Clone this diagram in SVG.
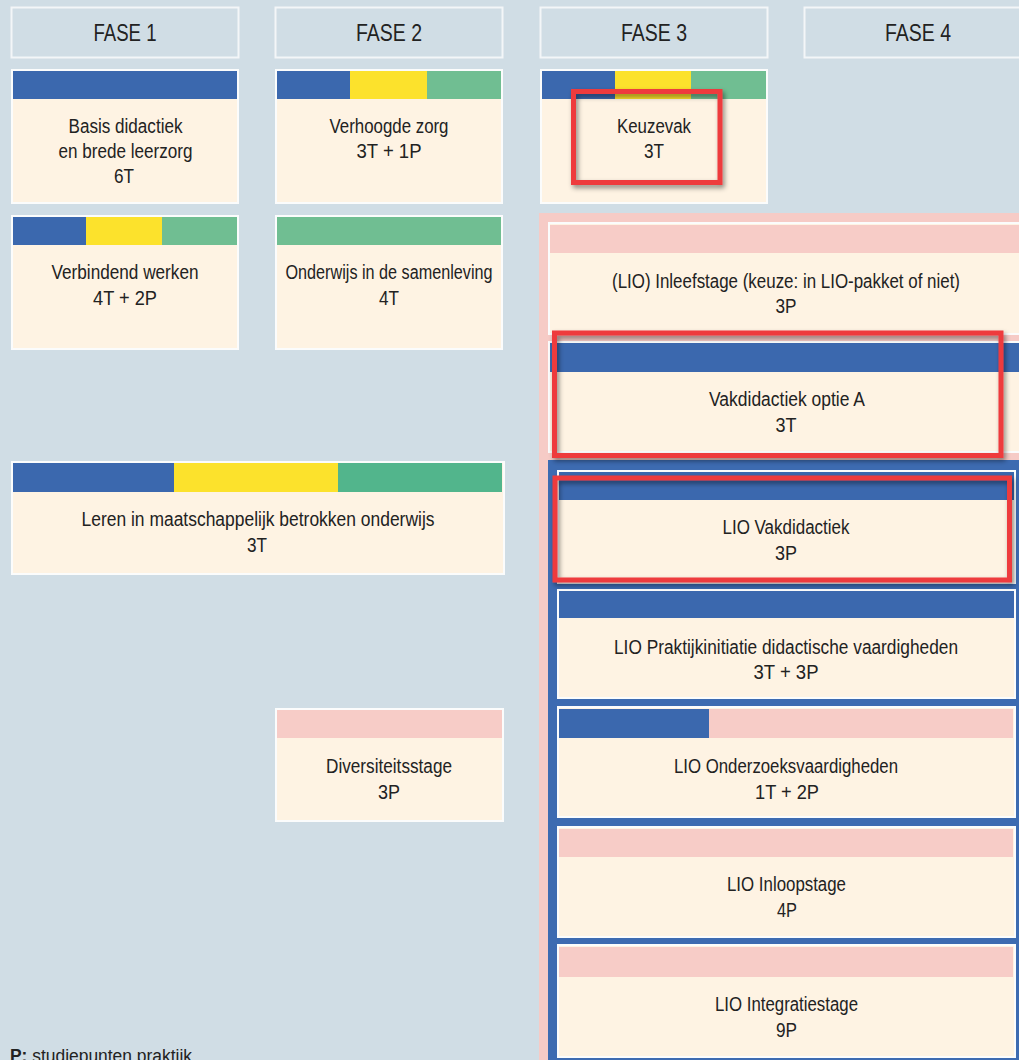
<svg xmlns="http://www.w3.org/2000/svg" width="1019" height="1060" viewBox="0 0 1019 1060">
<defs>
<style>
.hdr{fill:#D0DDE5;stroke:#F3F6F8;stroke-width:2}
.card{fill:#FEF3E3;stroke:#FBFCFC;stroke-width:2}
.t{font-family:"Liberation Sans Narrow","Liberation Sans",Arial,sans-serif;font-size:20px;fill:#222;text-anchor:middle}
.h{font-family:"Liberation Sans Narrow","Liberation Sans",Arial,sans-serif;font-size:24px;fill:#222;text-anchor:middle}
.b{fill:#3B68AE}
.y{fill:#FCE22C}
.g{fill:#70BE92}
.g2{fill:#52B58C}
.p{fill:#F7CCC7}
.red{fill:none;stroke:#EE3A3E;stroke-width:5;filter:url(#sh)}
</style>
<filter id="sh" x="-10%" y="-20%" width="125%" height="150%">
<feDropShadow dx="2" dy="3" stdDeviation="2.5" flood-color="#000" flood-opacity="0.45"/>
</filter>
</defs>
<rect x="0" y="0" width="1019" height="1060" fill="#D0DDE5"/>

<g id="headers">
<g id="fase1"><rect class="hdr" x="11.5" y="7.5" width="227" height="50"/><text class="h" x="125" y="41" textLength="63" lengthAdjust="spacingAndGlyphs">FASE 1</text></g>
<g id="fase2"><rect class="hdr" x="275.5" y="7.5" width="227" height="50"/><text class="h" x="389" y="41" textLength="66" lengthAdjust="spacingAndGlyphs">FASE 2</text></g>
<g id="fase3"><rect class="hdr" x="540.5" y="7.5" width="227" height="50"/><text class="h" x="654" y="41" textLength="66" lengthAdjust="spacingAndGlyphs">FASE 3</text></g>
<g id="fase4"><rect class="hdr" x="804.5" y="7.5" width="227" height="50"/><text class="h" x="918" y="41" textLength="66" lengthAdjust="spacingAndGlyphs">FASE 4</text></g>
</g>

<g id="basis-didactiek">
<rect class="card" x="12" y="70" width="226" height="133"/>
<rect class="b" x="13" y="71" width="224" height="28"/>
<text class="t" x="125.5" y="133" textLength="114" lengthAdjust="spacingAndGlyphs">Basis didactiek</text>
<text class="t" x="125.5" y="158" textLength="134" lengthAdjust="spacingAndGlyphs">en brede leerzorg</text>
<text class="t" x="124" y="183" textLength="20" lengthAdjust="spacingAndGlyphs">6T</text>
</g>

<g id="verhoogde-zorg">
<rect class="card" x="276" y="70" width="226" height="133"/>
<rect class="b" x="277" y="71" width="73" height="28"/>
<rect class="y" x="350" y="71" width="77" height="28"/>
<rect class="g" x="427" y="71" width="74" height="28"/>
<text class="t" x="389" y="133" textLength="119" lengthAdjust="spacingAndGlyphs">Verhoogde zorg</text>
<text class="t" x="389" y="158" textLength="65" lengthAdjust="spacingAndGlyphs">3T + 1P</text>
</g>

<g id="keuzevak">
<rect class="card" x="541" y="70" width="226" height="133"/>
<rect class="b" x="542" y="71" width="73" height="28"/>
<rect class="y" x="615" y="71" width="76" height="28"/>
<rect class="g" x="691" y="71" width="75" height="28"/>
<text class="t" x="654" y="133" textLength="74" lengthAdjust="spacingAndGlyphs">Keuzevak</text>
<text class="t" x="654" y="158" textLength="20" lengthAdjust="spacingAndGlyphs">3T</text>
</g>

<g id="verbindend-werken">
<rect class="card" x="12" y="216" width="226" height="133"/>
<rect class="b" x="13" y="217" width="73" height="28"/>
<rect class="y" x="86" y="217" width="76" height="28"/>
<rect class="g" x="162" y="217" width="75" height="28"/>
<text class="t" x="125" y="279" textLength="147" lengthAdjust="spacingAndGlyphs">Verbindend werken</text>
<text class="t" x="125" y="305" textLength="64" lengthAdjust="spacingAndGlyphs">4T + 2P</text>
</g>

<g id="onderwijs-samenleving">
<rect class="card" x="276" y="216" width="226" height="133"/>
<rect class="g" x="277" y="217" width="224" height="28"/>
<text class="t" x="389" y="279" textLength="207" lengthAdjust="spacingAndGlyphs">Onderwijs in de samenleving</text>
<text class="t" x="389" y="305" textLength="20" lengthAdjust="spacingAndGlyphs">4T</text>
</g>

<g id="leren-maatschappelijk">
<rect class="card" x="12" y="462" width="492" height="112"/>
<rect class="b" x="13" y="463" width="161" height="29"/>
<rect class="y" x="174" y="463" width="164" height="29"/>
<rect class="g2" x="338" y="463" width="164" height="29"/>
<text class="t" x="258" y="526" textLength="353" lengthAdjust="spacingAndGlyphs">Leren in maatschappelijk betrokken onderwijs</text>
<text class="t" x="257" y="552" textLength="20" lengthAdjust="spacingAndGlyphs">3T</text>
</g>

<g id="diversiteitsstage">
<rect class="card" x="276" y="709" width="227" height="112"/>
<rect class="p" x="277" y="710" width="225" height="28"/>
<text class="t" x="389" y="773" textLength="126" lengthAdjust="spacingAndGlyphs">Diversiteitsstage</text>
<text class="t" x="389" y="799" textLength="22" lengthAdjust="spacingAndGlyphs">3P</text>
</g>

<g id="lio-pakket">
<rect x="539" y="213" width="490" height="850" fill="#F6CBC6"/>

<g id="inleefstage">
<rect class="card" x="549" y="223" width="480" height="111"/>
<rect class="p" x="550" y="225" width="479" height="28"/>
<text class="t" x="786" y="288" textLength="348" lengthAdjust="spacingAndGlyphs">(LIO) Inleefstage (keuze: in LIO-pakket of niet)</text>
<text class="t" x="786" y="313" textLength="21" lengthAdjust="spacingAndGlyphs">3P</text>
</g>

<g id="vakdidactiek-optie-a">
<rect class="card" x="549" y="342" width="480" height="110"/>
<rect class="b" x="550" y="343" width="479" height="29"/>
<text class="t" x="787" y="406" textLength="156" lengthAdjust="spacingAndGlyphs">Vakdidactiek optie A</text>
<text class="t" x="786" y="432" textLength="21" lengthAdjust="spacingAndGlyphs">3T</text>
</g>

<g id="lio-blok">
<rect x="548" y="460" width="481" height="603" fill="#3D6BB1"/>

<g id="lio-vakdidactiek">
<rect class="card" x="558" y="471" width="457" height="112"/>
<rect class="b" x="559" y="472" width="455" height="28"/>
<text class="t" x="786" y="534" textLength="127" lengthAdjust="spacingAndGlyphs">LIO Vakdidactiek</text>
<text class="t" x="786" y="560" textLength="22" lengthAdjust="spacingAndGlyphs">3P</text>
</g>

<g id="lio-praktijkinitiatie">
<rect class="card" x="558" y="590" width="457" height="108"/>
<rect class="b" x="559" y="591" width="455" height="27"/>
<text class="t" x="786" y="654" textLength="344" lengthAdjust="spacingAndGlyphs">LIO Praktijkinitiatie didactische vaardigheden</text>
<text class="t" x="786" y="679" textLength="65" lengthAdjust="spacingAndGlyphs">3T + 3P</text>
</g>

<g id="lio-onderzoeksvaardigheden">
<rect class="card" x="558" y="707" width="457" height="110"/>
<rect class="b" x="559" y="709" width="150" height="29"/>
<rect class="p" x="709" y="709" width="304" height="29"/>
<text class="t" x="786" y="773" textLength="224" lengthAdjust="spacingAndGlyphs">LIO Onderzoeksvaardigheden</text>
<text class="t" x="787" y="799" textLength="64" lengthAdjust="spacingAndGlyphs">1T + 2P</text>
</g>

<g id="lio-inloopstage">
<rect class="card" x="558" y="827" width="457" height="110"/>
<rect class="p" x="559" y="829" width="454" height="28"/>
<text class="t" x="786.5" y="891" textLength="119" lengthAdjust="spacingAndGlyphs">LIO Inloopstage</text>
<text class="t" x="787" y="917" textLength="20" lengthAdjust="spacingAndGlyphs">4P</text>
</g>

<g id="lio-integratiestage">
<rect class="card" x="558" y="945" width="457" height="112"/>
<rect class="p" x="559" y="947" width="454" height="30"/>
<text class="t" x="786.5" y="1011" textLength="143" lengthAdjust="spacingAndGlyphs">LIO Integratiestage</text>
<text class="t" x="786.5" y="1037" textLength="21" lengthAdjust="spacingAndGlyphs">9P</text>
</g>
</g>
</g>

<g id="connectors"></g>

<g id="highlights">
<rect class="red" x="573.5" y="91.5" width="146.5" height="91"/>
<rect class="red" x="554.5" y="333" width="446.5" height="122.5"/>
<rect class="red" x="555" y="478" width="454.5" height="102"/>
</g>

<g id="legend">
<text x="10" y="1062" font-family="'Liberation Sans',Arial,sans-serif" font-size="18" fill="#222" textLength="182" lengthAdjust="spacingAndGlyphs"><tspan font-weight="bold">P:</tspan> studiepunten praktijk</text>
</g>
</svg>
